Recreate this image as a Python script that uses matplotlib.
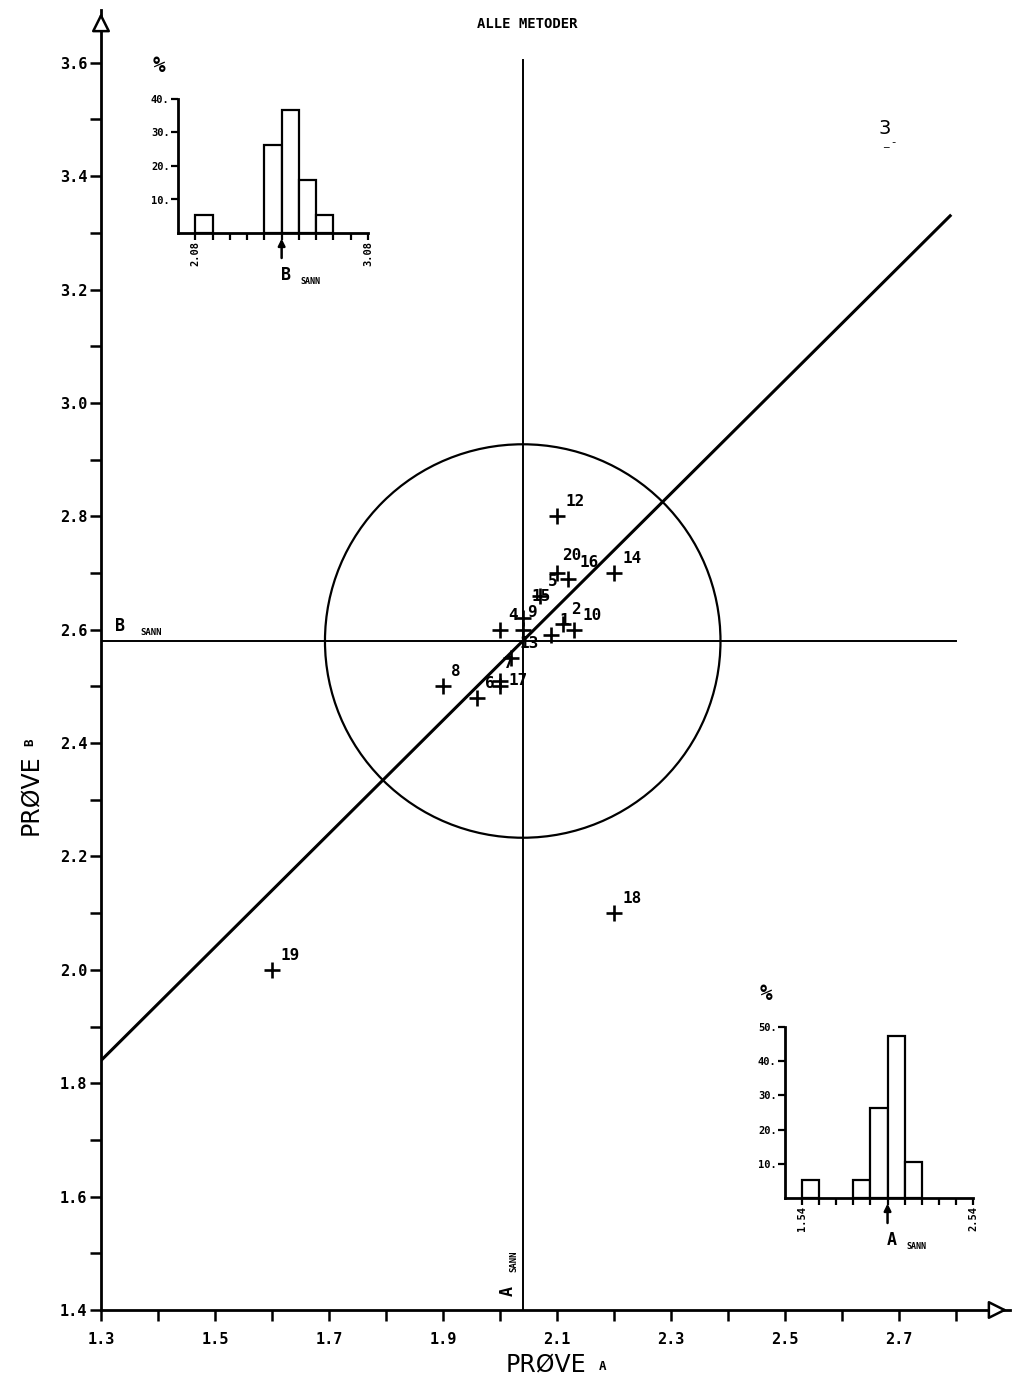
import numpy as np
import matplotlib
matplotlib.use("Agg")
import matplotlib.pyplot as plt
from matplotlib.patches import Ellipse
from matplotlib.ticker import FixedLocator, FuncFormatter

# ---------------- data ----------------
lab_ids = ["12", "14", "20", "16", "5", "15", "4", "9", "2", "1", "10", "13", "7", "17", "8", "6", "19", "18"]
prove_a = [2.10, 2.20, 2.10, 2.12, 2.07, 2.04, 2.00, 2.04, 2.11, 2.09, 2.13, 2.02, 2.00, 2.00, 1.90, 1.96, 1.60, 2.20]
prove_b = [2.80, 2.70, 2.70, 2.69, 2.66, 2.62, 2.60, 2.60, 2.61, 2.59, 2.60, 2.55, 2.51, 2.50, 2.50, 2.48, 2.00, 2.10]

a_sann = 2.04
b_sann = 2.58
circle_radius = 0.347

hist_b_edges = [2.08, 2.18, 2.28, 2.38, 2.48, 2.58, 2.68, 2.78, 2.88, 2.98]
hist_b_pct = [5.3, 0, 0, 0, 26.3, 36.8, 15.8, 5.3, 0, 0]
hist_a_edges = [1.54, 1.64, 1.74, 1.84, 1.94, 2.04, 2.14, 2.24, 2.34, 2.44]
hist_a_pct = [5.3, 0, 0, 5.3, 26.3, 47.4, 10.5, 0, 0, 0]

x_tick_labels = ["1.3", "1.5", "1.7", "1.9", "2.1", "2.3", "2.5", "2.7"]
y_tick_labels = ["1.4", "1.6", "1.8", "2.0", "2.2", "2.4", "2.6", "2.8", "3.0", "3.2", "3.4", "3.6"]

# label placement offsets (points), styling only
label_offsets = {"15": (6, 10), "9": (3, 7), "20": (4, 7), "16": (8, 6),
                 "17": (6, -1), "7": (3, 7)}

# ---------------- figure ----------------
W, H = 1017, 1381
fig = plt.figure(figsize=(W / 100, H / 100), dpi=100)
fig.patch.set_facecolor("white")


def fr(l, t, r, b):
    return [l / W, 1 - b / H, (r - l) / W, (b - t) / H]


MONO = "DejaVu Sans Mono"
ax = fig.add_axes(fr(101, 10, 1010, 1310))
ax.set_xlim(1.3, 2.895)
ax.set_ylim(1.4, 3.693)
for s in ["top", "right"]:
    ax.spines[s].set_visible(False)
for s in ["left", "bottom"]:
    ax.spines[s].set_linewidth(2)

# ticks
ax.xaxis.set_major_locator(FixedLocator([float(t) for t in x_tick_labels]))
ax.xaxis.set_minor_locator(FixedLocator(np.round(np.arange(1.4, 2.81, 0.2), 2)))
ax.set_xticklabels(x_tick_labels, fontfamily=MONO, fontweight="bold", fontsize=11)
ax.yaxis.set_major_locator(FixedLocator([float(t) for t in y_tick_labels]))
ax.yaxis.set_minor_locator(FixedLocator(np.round(np.arange(1.5, 3.6, 0.2), 2)))
ax.set_yticklabels(y_tick_labels, fontfamily=MONO, fontweight="bold", fontsize=11)
ax.tick_params(which="both", direction="out", length=8, width=1.8)
ax.tick_params(axis="x", pad=8)
ax.tick_params(axis="y", pad=2)

# axis arrows
ax.annotate("", xy=(0, 1.0), xytext=(0, 0.985), xycoords="axes fraction",
            arrowprops=dict(arrowstyle="-|>", fc="white", ec="black", lw=1.8, mutation_scale=28))
ax.annotate("", xy=(1.0, 0), xytext=(0.985, 0), xycoords="axes fraction",
            arrowprops=dict(arrowstyle="-|>", fc="white", ec="black", lw=1.8, mutation_scale=28))

# reference lines
ax.plot([a_sann, a_sann], [1.4, 3.605], color="black", lw=1.4)
ax.plot([1.3, 2.80], [b_sann, b_sann], color="black", lw=1.4)
diag_x = np.array([1.3, 2.79])
ax.plot(diag_x, diag_x + (b_sann - a_sann), color="black", lw=2.2)
ax.add_patch(Ellipse((a_sann, b_sann), 2 * circle_radius, 2 * circle_radius,
                     fill=False, ec="black", lw=1.6))

# points
ax.plot(prove_a, prove_b, linestyle="none", marker="+", color="black",
        markersize=11, markeredgewidth=1.9)
for lid, xa, yb in zip(lab_ids, prove_a, prove_b):
    ax.annotate(lid, (xa, yb), xytext=label_offsets.get(lid, (6, 5)), textcoords="offset points",
                ha="left", va="bottom", fontfamily=MONO, fontweight="bold", fontsize=11.5)

# SANN labels
ax.annotate("B", (1.3, b_sann), xytext=(10, 4), textcoords="offset points",
            ha="left", va="bottom", fontfamily=MONO, fontweight="bold", fontsize=12)
ax.annotate("SANN", (1.3, b_sann), xytext=(28, 3), textcoords="offset points",
            ha="left", va="bottom", fontfamily=MONO, fontweight="bold", fontsize=6.5)
ax.annotate("A", (a_sann, 1.4), xytext=(-4, 10), textcoords="offset points",
            ha="right", va="bottom", rotation=90, fontfamily=MONO, fontweight="bold", fontsize=12)
ax.annotate("SANN", (a_sann, 1.4), xytext=(-3, 27), textcoords="offset points",
            ha="right", va="bottom", rotation=90, fontfamily=MONO, fontweight="bold", fontsize=6.5)

# axis titles
fig.text(506 / W, 1 - 1364 / H, "PRØVE", fontsize=17, fontfamily="DejaVu Sans", ha="left", va="center")
fig.text(603 / W, 1 - 1366 / H, "A", fontsize=9, fontfamily=MONO, fontweight="bold", ha="center", va="center")
fig.text(30 / W, 1 - 795 / H, "PRØVE", fontsize=17, fontfamily="DejaVu Sans", rotation=90, ha="center", va="center")
fig.text(30 / W, 1 - 742 / H, "B", fontsize=9, fontfamily=MONO, fontweight="bold", rotation=90, ha="center", va="center")

# title & page number
fig.text(527 / W, 1 - 24 / H, "ALLE METODER", fontsize=10, fontfamily=MONO, fontweight="bold", ha="center", va="center")
fig.text(885 / W, 1 - 128 / H, "3", fontsize=14, fontfamily="DejaVu Sans", ha="center", va="center")
fig.text(890 / W, 1 - 143 / H, "_ -", fontsize=8, fontfamily="DejaVu Sans", ha="center", va="center")


def histogram(rect, edges, pct, lo, hi, ymax, sann_x, sann_letter, lab_lo, lab_hi):
    h = fig.add_axes(rect)
    h.set_xlim(lo, hi)
    h.set_ylim(0, ymax)
    for s in ["top", "right"]:
        h.spines[s].set_visible(False)
    for s in ["left", "bottom"]:
        h.spines[s].set_linewidth(2)
    for e, p in zip(edges, pct):
        if p > 0:
            h.bar(e, p, width=0.1, align="edge", fill=True, fc="white", ec="black", lw=1.6)
    ticks = list(edges) + [round(edges[-1] + 0.1, 2)]
    h.set_xticks(ticks)
    h.set_xticklabels([lab_lo] + [""] * (len(ticks) - 2) + [lab_hi], rotation=90,
                      fontfamily=MONO, fontweight="bold", fontsize=7.5)
    h.set_yticks(np.arange(10, ymax + 1, 10))
    h.yaxis.set_major_formatter(FuncFormatter(lambda v, p: f"{int(v)}."))
    for t in h.get_yticklabels():
        t.set_fontfamily(MONO)
        t.set_fontweight("bold")
        t.set_fontsize(7.5)
    h.tick_params(direction="out", length=5, width=1.6, pad=1)
    h.patch.set_alpha(0)
    h.annotate("", xy=(sann_x, 0), xycoords=("data", "axes fraction"), xytext=(0, -18),
               textcoords="offset points",
               arrowprops=dict(arrowstyle="-|>", color="black", lw=1.8, mutation_scale=10,
                               shrinkA=0, shrinkB=4))
    h.annotate(sann_letter, (sann_x, 0), xycoords=("data", "axes fraction"), xytext=(3, -30),
               textcoords="offset points", ha="center", va="center",
               fontfamily=MONO, fontweight="bold", fontsize=12)
    h.annotate("SANN", (sann_x, 0), xycoords=("data", "axes fraction"), xytext=(21, -35),
               textcoords="offset points", ha="center", va="center",
               fontfamily=MONO, fontweight="bold", fontsize=6)
    h.annotate("%", (0, 1), xycoords="axes fraction", xytext=(-14, 24), textcoords="offset points",
               ha="center", va="center", fontfamily=MONO, fontweight="bold", fontsize=15)
    return h


histogram(fr(178, 99, 368, 233), hist_b_edges, hist_b_pct, 1.98, 3.08, 40, b_sann, "B", "2.08", "3.08")
histogram(fr(785, 1027, 973, 1198), hist_a_edges, hist_a_pct, 1.44, 2.54, 50, a_sann, "A", "1.54", "2.54")

fig.savefig("out.png", dpi=100, facecolor="white")
